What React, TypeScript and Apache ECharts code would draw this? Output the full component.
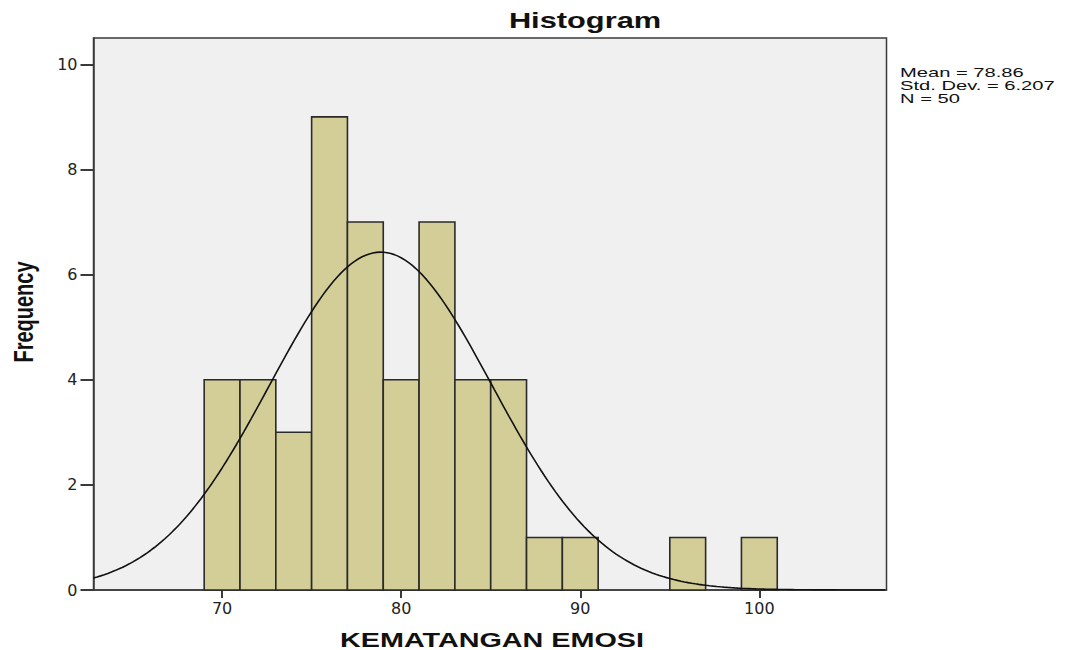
import React, { useEffect, useRef } from "react";
import * as echarts from "echarts";

const binStarts = [69, 71, 73, 75, 77, 79, 81, 83, 85, 87, 89, 91, 93, 95, 97, 99];
const counts = [4, 4, 3, 9, 7, 4, 7, 4, 4, 1, 1, 0, 0, 1, 0, 1];
const binWidth = 2;
const mean = 78.86;
const stdDev = 6.207;
const n = 50;
const xTicks = [70, 80, 90, 100];
const yTicks = [0, 2, 4, 6, 8, 10];
const statLines = ["Mean = 78.86", "Std. Dev. = 6.207", "N = 50"];
const titleText = "Histogram";
const xName = "KEMATANGAN EMOSI";
const yName = "Frequency";

const xMin = 62.82;
const xMax = 107.1;

export default function App() {
  const ref = useRef<HTMLDivElement>(null);
  useEffect(() => {
    if (!ref.current) return;
    const chart = echarts.init(ref.current, null, { renderer: "svg" });
    const barData = binStarts.map((s, i) => [s, s + binWidth, counts[i]]).filter((d) => d[2] > 0);
    const curve: number[][] = [];
    for (let x = xMin; x <= xMax + 1e-9; x += 0.2) {
      const z = (x - mean) / stdDev;
      const y = ((n * binWidth) / (stdDev * Math.sqrt(2 * Math.PI))) * Math.exp(-0.5 * z * z);
      curve.push([x, y]);
    }
    const font = "Arial, 'Liberation Sans', sans-serif";
    const tickFont = "'DejaVu Sans', sans-serif";
    chart.setOption({
      animation: false,
      textStyle: { fontFamily: font },
      graphic: [
        {
          type: "text",
          x: 585,
          y: 21,
          scaleX: 1.4,
          style: {
            text: titleText,
            fontSize: 22,
            fontWeight: "bold",
            fill: "#111",
            fontFamily: font,
            align: "center",
            verticalAlign: "middle",
          },
        },
        {
          type: "text",
          x: 900,
          y: 66,
          scaleX: 1.55,
          style: {
            text: statLines.join("\n"),
            fontSize: 13,
            lineHeight: 13,
            fill: "#111",
            fontFamily: font,
            align: "left",
            verticalAlign: "top",
          },
        },
        {
          type: "text",
          x: 492,
          y: 639,
          scaleX: 1.37,
          style: {
            text: xName,
            fontSize: 21,
            lineHeight: 20,
            fontWeight: "bold",
            fill: "#111",
            fontFamily: font,
            align: "center",
            verticalAlign: "middle",
          },
        },
        {
          type: "text",
          x: 23,
          y: 312,
          rotation: Math.PI / 2,
          scaleY: 1.37,
          style: {
            text: yName,
            fontSize: 20,
            fontWeight: "bold",
            fill: "#111",
            fontFamily: font,
            align: "center",
            verticalAlign: "middle",
          },
        },
      ],
      grid: {
        left: 93.5,
        right: 178.5,
        top: 38,
        bottom: 60,
        show: true,
        backgroundColor: "#f0f0f0",
        borderColor: "#3a3a3a",
        borderWidth: 1.5,
      },
      xAxis: {
        type: "value",
        min: xMin,
        max: xMax,
        axisLine: { show: true, lineStyle: { color: "#3a3a3a", width: 1.5 } },
        axisTick: { show: true, customValues: xTicks, length: 8, lineStyle: { color: "#3a3a3a", width: 2 } },
        axisLabel: { customValues: xTicks, fontSize: 16, color: "#222", margin: 10, fontFamily: tickFont },
        splitLine: { show: false },
      },
      yAxis: {
        type: "value",
        min: 0,
        max: 10.5,
        axisLine: { show: true, lineStyle: { color: "#3a3a3a", width: 1.5 } },
        axisTick: { show: true, customValues: yTicks, length: 13, lineStyle: { color: "#3a3a3a", width: 2 } },
        axisLabel: { customValues: yTicks, fontSize: 16, color: "#222", margin: 16, fontFamily: tickFont },
        splitLine: { show: false },
      },
      series: [
        {
          type: "custom",
          data: barData,
          renderItem: (params: any, api: any) => {
            const p0 = api.coord([api.value(0), api.value(2)]);
            const p1 = api.coord([api.value(1), 0]);
            return {
              type: "rect",
              shape: { x: p0[0], y: p0[1], width: p1[0] - p0[0], height: p1[1] - p0[1] },
              style: { fill: "#d3cd97", stroke: "#2a2a2a", lineWidth: 1.6 },
            };
          },
          encode: { x: [0, 1], y: 2 },
          z: 2,
        },
        {
          type: "line",
          data: curve,
          showSymbol: false,
          smooth: false,
          lineStyle: { color: "#111", width: 1.6 },
          z: 3,
        },
      ],
    });
    return () => chart.dispose();
  }, []);
  return <div ref={ref} style={{ position: "fixed", left: 0, top: 0, width: 1065, height: 650, background: "#fff" }} />;
}
